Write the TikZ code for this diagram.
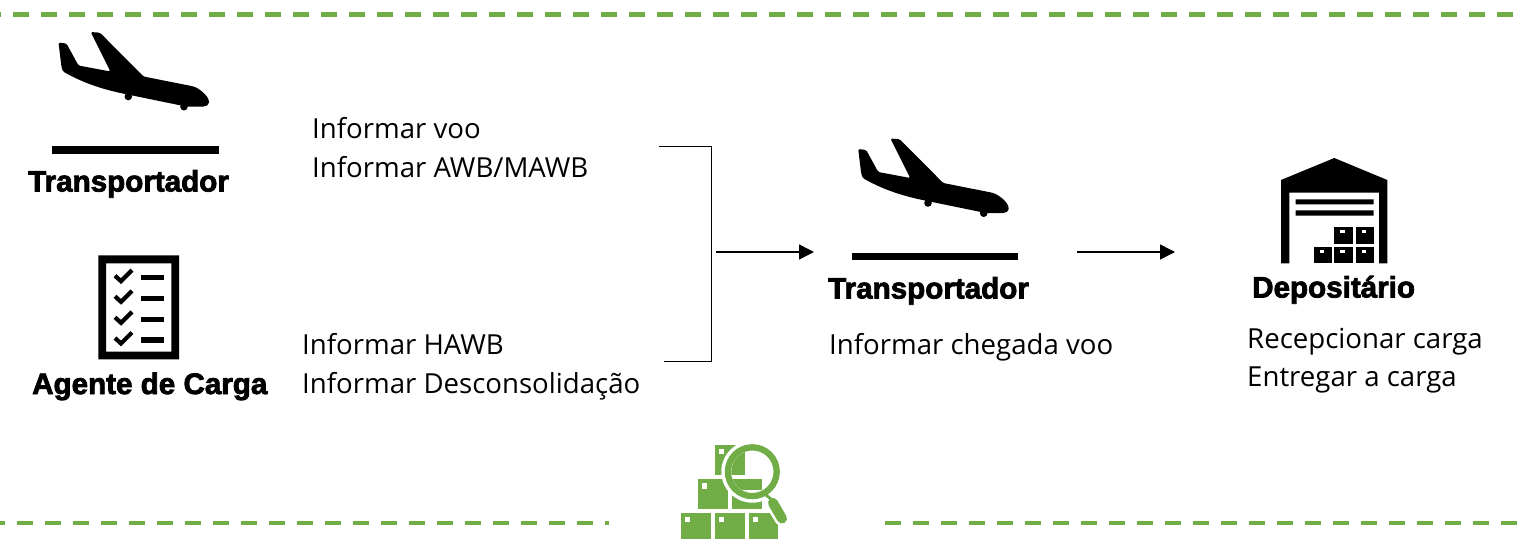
\documentclass[tikz,border=0pt]{standalone}
\usepackage{fontspec}
\setmainfont{Open Sans}
\newfontfamily\heavyfont[FakeBold=2.6]{Liberation Sans Bold}
\usetikzlibrary{arrows.meta}
\definecolor{grn}{HTML}{70AD47}
\tikzset{
  x=1pt,y=-1pt,
  bodytext/.style={inner sep=0pt,anchor=base west,align=left,font=\fontsize{27.6}{39}\selectfont,text=black},
  role/.style={inner sep=0pt,anchor=base west,font=\heavyfont\fontsize{29.6}{32}\selectfont},
  band/.style={draw=grn,line width=4.5pt,dash pattern=on 16pt off 12pt},
  wire/.style={draw=black,line width=0.9pt},
  flow/.style={draw=black,line width=1.6pt,-{Triangle[length=15pt,width=15pt]}},
  pics/plane/.style={code={
    \fill[black,rounded corners=1.5pt]
      (58.5,42.5) -- (66.5,43.5) -- (78.5,65.5) -- (110.5,71.5) -- (90.7,32) -- (100,32.7) -- (143.5,76.5)
      -- (191.5,86) .. controls (199,88) and (207,95) .. (209,101) .. controls (209,105) and (206,106.5) .. (202,106.5)
      -- (186,106.5) -- (130,95) .. controls (105,90) and (85,84) .. (63,71.5) -- (61.5,67) -- cycle;
    \fill[black] (128.3,96.5) circle (3.8pt) (184,106.7) circle (3.8pt);
    \fill[black] (52.3,146) rectangle (218.7,153.7);
  }}
}
\begin{document}
\begin{tikzpicture}
\useasboundingbox (0,0) rectangle (1519,539);
% bands
\coordinate (topL) at (-15,14.5);
\coordinate (topR) at (1519,14.5);
\coordinate (botLL) at (-11,523);
\coordinate (botLR) at (609,523);
\coordinate (botRL) at (885,523);
\coordinate (botRR) at (1519,523);
\draw[band] (topL) -- (topR);
\draw[band] (botLL) -- (botLR);
\draw[band] (botRL) -- (botRR);
% planes
\pic {plane};
\pic at (799.7,106.5) {plane};
% checklist
\fill[black,even odd rule] (98.3,255.3) rectangle (179,359.3) (106,263.3) rectangle (171.3,351.7);
\foreach \yy in {277.7,298.3,319.3,340}{
  \draw[black,line width=4.2pt] (115,\yy-2) -- (121,\yy+3.5) -- (132,\yy-7.5);
  \fill[black] (141,\yy-2.7) rectangle (164,\yy+2.7);
}
% warehouse
\fill[black] (1281,180) -- (1334.3,158) -- (1387.3,180) -- (1387.3,263.3) -- (1379,263.3) -- (1379,192.7)
  -- (1289.3,192.7) -- (1289.3,263.3) -- (1281,263.3) -- cycle;
\fill[black] (1295.7,199.3) rectangle (1373.7,204.3) (1295.7,210.3) rectangle (1373.7,215.7);
\foreach \xa/\ya/\xb/\yb in {1334.3/227.3/1353.3/243.7, 1355.7/227.3/1373.7/243.7, 1313.7/247/1332/263.3, 1334.3/247/1353.3/263.3, 1355.7/247/1373.7/263.3}{
  \fill[black] (\xa,\ya) rectangle (\xb,\yb);
  \fill[white] (\xa+6,\ya+3) rectangle (\xa+10.5,\ya+5.5);
}
% green icon
\begin{scope}
\clip (600,430) rectangle (900,539);
\foreach \xa/\ya/\xb/\yb in {715/445/745.3/475.3, 698/479.3/728/509.3, 732/479.3/762/509.3, 681/513/711/539, 715/513/745.3/539, 749/513/777.7/539}{
  \fill[grn] (\xa,\ya) rectangle (\xb,\yb);
  \fill[white] (\xa+4,\ya+4) rectangle (\xa+9.3,\ya+9.3);
}
\draw[white,line width=15pt,line cap=round] (768,495) -- (782,518.5);
\fill[white] (752.3,471.7) circle (31pt);
\begin{scope}
\clip (752.3,471.7) circle (21pt);
\fill[grn] (715,445) rectangle (745.3,475.3);
\fill[grn] (732,479.3) rectangle (762,490);
\end{scope}
\draw[grn,line width=6.3pt] (752.3,471.7) circle (24.4pt);
\draw[grn,line width=3pt] (766,495) -- (772,500);
\draw[grn,line width=10pt,line cap=round] (773,503) -- (782,518.5);
\end{scope}
% connectors
\coordinate (brTop) at (659,146);
\coordinate (brTopC) at (711,146);
\coordinate (brBotC) at (711,361);
\coordinate (brBot) at (664,361);
\coordinate (a1s) at (716,252);
\coordinate (a1e) at (814,252);
\coordinate (a2s) at (1077,252);
\coordinate (a2e) at (1175,252);
\draw[wire] (brTop) -- (brTopC) -- (brBotC) -- (brBot);
\draw[flow] (a1s) -- (a1e);
\draw[flow] (a2s) -- (a2e);
% labels
\node[role] (r1) at (28,191.5) {Transportador};
\node[role] (r2) at (828,298.5) {Transportador};
\node[role] (r3) at (32,394) {Agente de Carga};
\node[role] (r4) at (1252,297.5) {Depositário};
\node[bodytext] (t1) at (312,138) {Informar voo};
\node[bodytext] (t2) at (312,177) {Informar AWB/MAWB};
\node[bodytext] (t3) at (302,354) {Informar HAWB};
\node[bodytext] (t4) at (302,393) {Informar Desconsolidação};
\node[bodytext] (t5) at (829,354) {Informar chegada voo};
\node[bodytext] (t6) at (1247,348) {Recepcionar carga};
\node[bodytext] (t7) at (1247,386.5) {Entregar a carga};
\end{tikzpicture}
\end{document}
